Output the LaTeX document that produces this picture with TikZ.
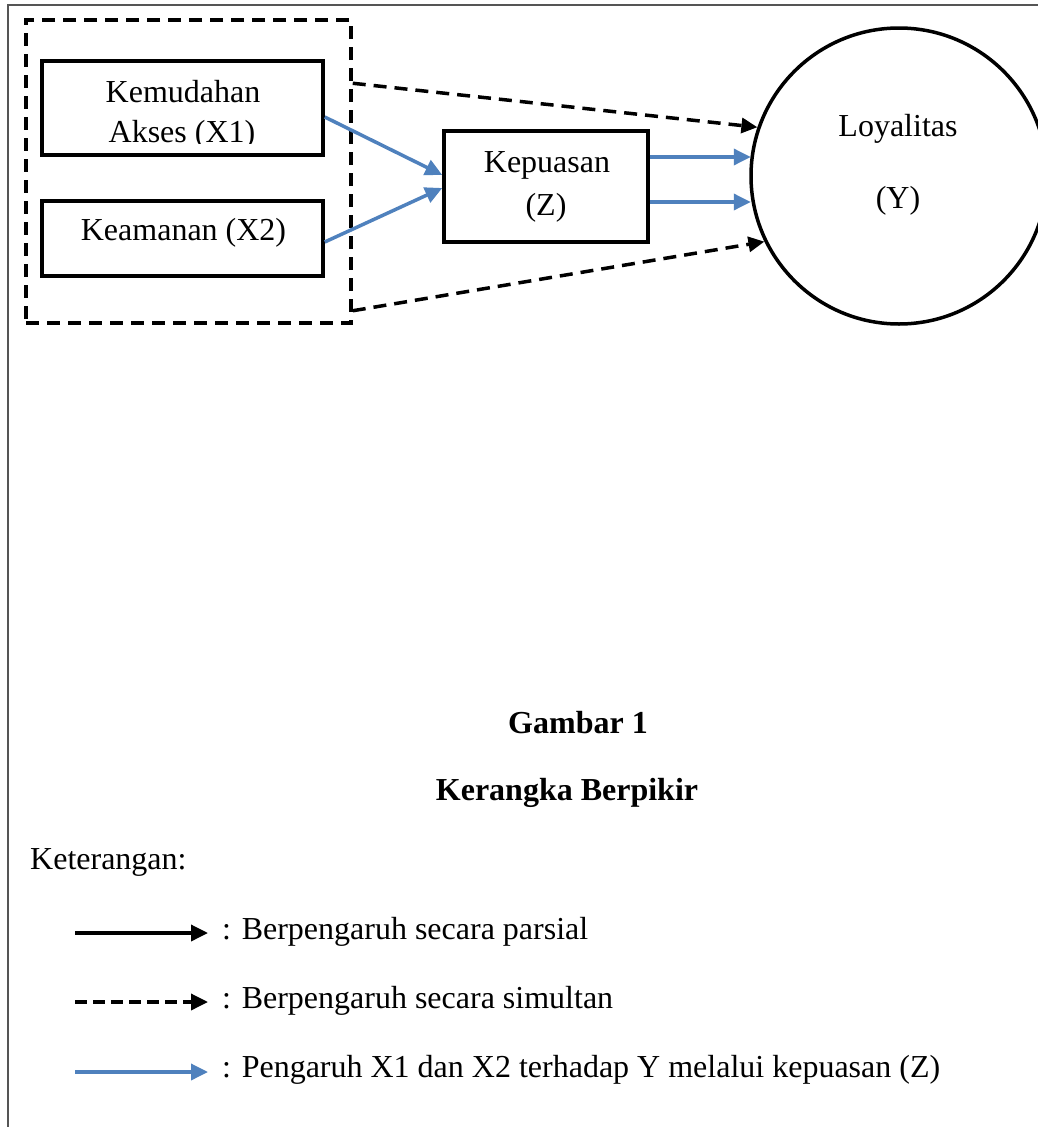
\documentclass[tikz,border=0pt]{standalone}
\usepackage{fontspec}
\setmainfont{Liberation Serif}
\usetikzlibrary{arrows.meta}
\definecolor{blu}{HTML}{4F81BD}
\definecolor{frm}{HTML}{555555}
\begin{document}
\begin{tikzpicture}[x=1pt,y=-1pt,
  txt/.style={inner sep=0pt, anchor=base, font=\fontsize{32}{38}\selectfont},
  btxt/.style={txt, font=\fontsize{32}{38}\selectfont\bfseries},
  boxnode/.style={draw, line width=3.5pt, inner sep=0pt, rectangle},
  grpnode/.style={draw, line width=3.5pt, dash pattern=on 13pt off 8pt, inner sep=0pt, rectangle},
  barrow/.style={draw=blu, line width=3.5pt, -{Triangle[length=17pt,width=16pt]}},
  darrow/.style={line width=3.5pt, dash pattern=on 13pt off 8pt, -{Triangle[length=16pt,width=15pt]}},
  karrow/.style={line width=3.5pt, -{Triangle[length=17pt,width=16pt]}},
  legdash/.style={line width=3.5pt, dash pattern=on 12pt off 6pt, -{Triangle[length=17pt,width=16pt]}}
]
\path[use as bounding box, clip] (0,0) rectangle (1038,1127);
\fill[white] (0,0) rectangle (1038,1127);

% frame
\draw[frm, line width=2.2pt] (8,1130) -- (8,5) -- (1040,5);

% group box
\node[grpnode, minimum width=325pt, minimum height=303pt] (g) at (188.5,171.5) {};

% boxes
\node[boxnode, minimum width=281pt, minimum height=94pt] (x1) at (182.5,108) {};
\node[boxnode, minimum width=281pt, minimum height=75pt] (x2) at (182.5,238.5) {};
\node[boxnode, minimum width=204pt, minimum height=111pt] (z) at (546,186.5) {};
\node[circle, draw, line width=3.5pt, minimum size=296pt, inner sep=0pt] (y) at (899,176) {};

% texts
\node[txt] (t1a) at (183,102) {Kemudahan};
\begin{scope}
  \clip (42,61) rectangle (323,143);
  \node[txt] (t1b) at (182,142) {Akses (X1)};
\end{scope}
\node[txt] (t2) at (183.5,240) {Keamanan (X2)};
\node[txt] (tza) at (547,172) {Kepuasan};
\node[txt] (tzb) at (546,215) {(Z)};
\node[txt] (tya) at (898,136) {Loyalitas};
\node[txt] (tyb) at (898,208) {(Y)};

% connectors
\coordinate (zo1) at ([yshift=29.5pt]z.east);
\coordinate (zo2) at ([yshift=-15.5pt]z.east);
\draw[barrow] ([yshift=-9pt]x1.east) -- ([yshift=11.5pt]z.west);
\draw[barrow] ([yshift=-3.5pt]x2.east) -- ([yshift=-1.5pt]z.west);
\draw[barrow] (zo1) -- ([xshift=1.5pt]zo1 -| y.west);
\draw[barrow] (zo2) -- ([xshift=1.5pt]zo2 -| y.west);
\draw[darrow] ([yshift=-65pt]g.north east) -- (y.161.4);
\draw[darrow] ([yshift=14pt]g.south east) -- (y.206.2);

% caption
\node[btxt] (cap1) at (578,733) {Gambar 1};
\node[btxt] (cap2) at (567,800) {Kerangka Berpikir};
\node[txt, anchor=base west] (ket) at (30,869) {Keterangan:};

% legend
\coordinate (a1) at (75,933);  \coordinate (b1) at (208,933);
\coordinate (a2) at (75,1002); \coordinate (b2) at (208,1002);
\coordinate (a3) at (75,1072); \coordinate (b3) at (208,1072);
\draw[karrow] (a1) -- (b1);
\draw[legdash] (a2) -- (b2);
\draw[barrow] (a3) -- (b3);
\node[txt, anchor=base west] (l1) at (222,939) {: Berpengaruh secara parsial};
\node[txt, anchor=base west] (l2) at (222,1008) {: Berpengaruh secara simultan};
\node[txt, anchor=base west] (l3) at (222,1077) {: Pengaruh X1 dan X2 terhadap Y melalui kepuasan (Z)};
\end{tikzpicture}
\end{document}
